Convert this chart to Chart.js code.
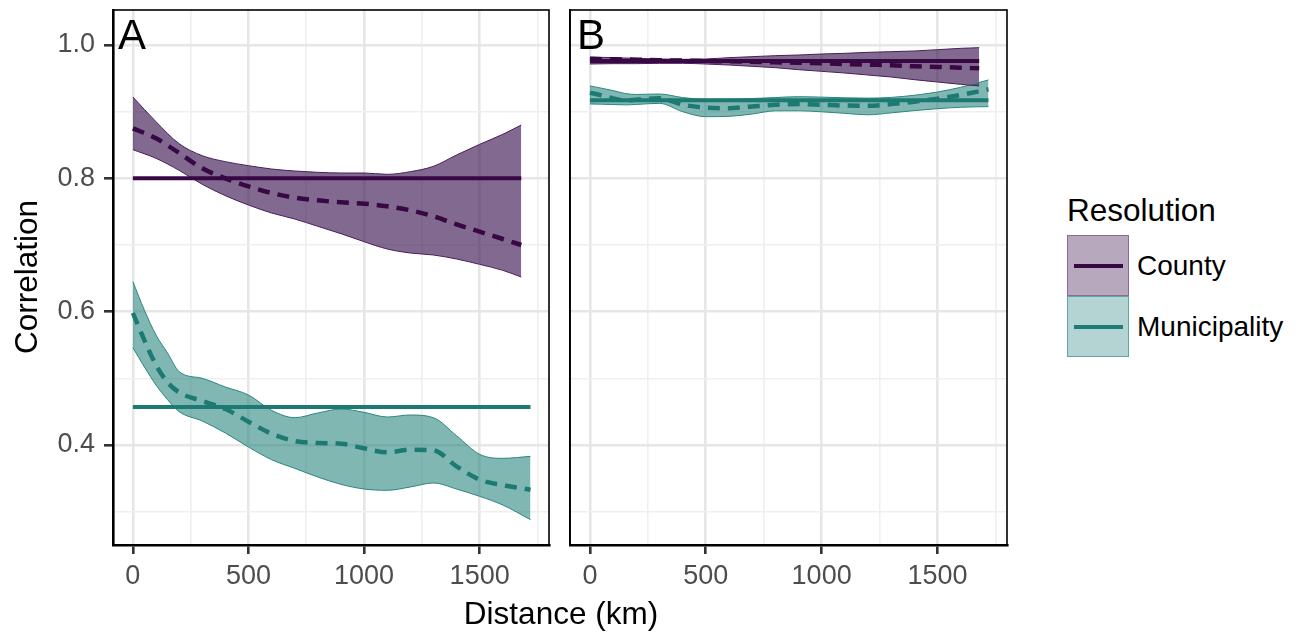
<!DOCTYPE html>
<html><head><meta charset="utf-8">
<script src="https://cdn.jsdelivr.net/npm/chart.js@4.4.1/dist/chart.umd.min.js"></script>
<style>
html,body{margin:0;padding:0;background:#fff;width:1302px;height:632px;overflow:hidden;font-family:"Liberation Sans",Arial,Helvetica,sans-serif;}
.abs{position:absolute;white-space:nowrap;}
#cA{left:0;top:0;}
#cB{left:560px;top:0;}
.tag{font-size:42px;line-height:42px;color:#000;}
.title{font-size:31.5px;line-height:30px;color:#000;}
#ytitle{left:-74px;top:262px;width:200px;text-align:center;transform:rotate(-90deg);transform-origin:50% 50%;}
#xtitle{left:411px;top:598px;width:300px;text-align:center;}
#ltitle{left:1067px;top:195px;}
.key{position:absolute;left:1067px;width:60px;height:59px;border:1px solid;}
.keyline{position:absolute;left:6px;width:49px;height:4px;top:28px;}
.llab{font-size:28px;line-height:26px;color:#000;left:1137px;}
</style></head><body>
<canvas id="cA" class="abs" width="560" height="600"></canvas>
<canvas id="cB" class="abs" width="460" height="600"></canvas>
<div class="abs tag" style="left:118px;top:14px">A</div>
<div class="abs tag" style="left:577px;top:14px">B</div>
<div class="abs title" id="ytitle">Correlation</div>
<div class="abs title" id="xtitle">Distance (km)</div>
<div class="abs title" id="ltitle">Resolution</div>
<div class="key" style="top:235px;background:rgba(60,20,80,0.37);border-color:#8a6b98;"><div class="keyline" style="background:#380844"></div></div>
<div class="key" style="top:296px;background:rgba(31,128,122,0.34);border-color:#5ea8a2;"><div class="keyline" style="background:#1f7b75"></div></div>
<div class="abs llab" style="top:253px">County</div>
<div class="abs llab" style="top:314px">Municipality</div>
<script>
// ---------- data ----------
const resolutions = ["County", "Municipality"];
const panels = ["A", "B"];
const xTickValues = [0, 250, 500, 750, 1000, 1250, 1500, 1750];
const yTickValues = [0.3, 0.4, 0.5, 0.6, 0.7, 0.8, 0.9, 1.0];

const countyDist = [0,100,200,300,400,500,600,700,800,900,1000,1100,1200,1300,1400,1500,1600,1680];
const muniDist = [0,50,100,150,200,300,400,500,600,700,800,900,1000,1100,1200,1300,1400,1500,1600,1720];

// Panel A
const countyMeanA  = [0.875,0.860,0.838,0.815,0.800,0.788,0.778,0.771,0.767,0.764,0.762,0.758,0.752,0.743,0.731,0.720,0.709,0.700];
const countyUpperA = [0.922,0.885,0.852,0.834,0.825,0.819,0.814,0.811,0.809,0.808,0.808,0.806,0.810,0.818,0.835,0.851,0.866,0.880];
const countyLowerA = [0.843,0.830,0.812,0.791,0.774,0.760,0.748,0.739,0.728,0.717,0.705,0.694,0.688,0.685,0.679,0.671,0.662,0.652];
const muniMeanA  = [0.598,0.557,0.520,0.494,0.479,0.466,0.454,0.435,0.417,0.406,0.403,0.402,0.395,0.389,0.393,0.392,0.368,0.348,0.340,0.333];
const muniUpperA = [0.645,0.602,0.565,0.538,0.510,0.500,0.487,0.475,0.452,0.441,0.448,0.454,0.449,0.442,0.445,0.441,0.414,0.386,0.380,0.383];
const muniLowerA = [0.546,0.517,0.490,0.468,0.450,0.436,0.418,0.397,0.378,0.365,0.352,0.341,0.334,0.332,0.337,0.343,0.334,0.323,0.310,0.288];
const overallA = [0.800, 0.457]; // County, Municipality

// Panel B
const countyMeanB  = [0.979,0.9785,0.978,0.977,0.9767,0.976,0.9755,0.9748,0.974,0.9733,0.9725,0.9715,0.9705,0.9696,0.968,0.967,0.966,0.965];
const countyUpperB = [0.982,0.981,0.980,0.979,0.9785,0.979,0.981,0.9825,0.984,0.985,0.9865,0.9875,0.989,0.990,0.991,0.993,0.995,0.996];
const countyLowerB = [0.9715,0.972,0.972,0.9725,0.9725,0.9715,0.970,0.968,0.966,0.963,0.9605,0.958,0.955,0.952,0.948,0.9445,0.941,0.9385];
const muniMeanB  = [0.9286,0.9245,0.9200,0.9170,0.9180,0.9200,0.9105,0.9060,0.9052,0.9078,0.9103,0.9114,0.9104,0.9092,0.9090,0.9113,0.9150,0.9195,0.9250,0.9336];
const muniUpperB = [0.9386,0.9352,0.9316,0.9274,0.9258,0.9265,0.9212,0.9186,0.9187,0.9197,0.9212,0.9225,0.9218,0.9208,0.9203,0.9214,0.9246,0.9295,0.9365,0.9476];
const muniLowerB = [0.9116,0.9112,0.9107,0.9102,0.9108,0.9125,0.9000,0.8925,0.8930,0.8965,0.9012,0.9013,0.8998,0.8975,0.8953,0.8982,0.9016,0.9045,0.9066,0.9076];
const overallB = [0.976, 0.917];

// ---------- styling ----------
const COL = {
  countyLine: '#380844', countyFill: 'rgba(60,20,80,0.64)', countyEdge: '#4a1d5c',
  muniLine: '#1c7a73', muniFill: 'rgba(31,128,122,0.57)', muniEdge: '#2b857f'
};
const FONT = '"Liberation Sans", Arial, Helvetica, sans-serif';
Chart.defaults.font.family = FONT;

function pts(xs, ys) { return xs.map((x, i) => ({x: x, y: ys[i]})); }
function flat(xs, v) { return [{x: xs[0], y: v}, {x: xs[xs.length - 1], y: v}]; }

const isMajorX = v => Math.abs(v % 500) < 1e-6;
const isMajorY = v => Math.round(v * 10) % 2 === 0;

const frame = {
  id: 'frame',
  afterDatasetsDraw(chart) {
    const a = chart.chartArea, c = chart.ctx;
    c.save();
    c.strokeStyle = '#000';
    c.lineWidth = 1.6;
    c.strokeRect(a.left, a.top, a.right - a.left, a.bottom - a.top);
    c.restore();
  }
};

function makePanel(id, d, showY, padding) {
  const datasets = [
    {data: pts(countyDist, d.cMean), borderColor: COL.countyLine, borderWidth: 4.5, borderDash: [12, 8], fill: false},
    {data: pts(muniDist, d.mMean), borderColor: COL.muniLine, borderWidth: 4.5, borderDash: [12, 8], fill: false},
    {data: flat(countyDist, d.overall[0]), borderColor: COL.countyLine, borderWidth: 4, fill: false, tension: 0},
    {data: flat(muniDist, d.overall[1]), borderColor: COL.muniLine, borderWidth: 4, fill: false, tension: 0},
    {data: pts(countyDist, d.cUp), borderColor: COL.countyEdge, borderWidth: 1, fill: '+1', backgroundColor: COL.countyFill},
    {data: pts(countyDist, d.cLo), borderColor: COL.countyEdge, borderWidth: 1, fill: false},
    {data: pts(muniDist, d.mUp), borderColor: COL.muniEdge, borderWidth: 1, fill: '+1', backgroundColor: COL.muniFill},
    {data: pts(muniDist, d.mLo), borderColor: COL.muniEdge, borderWidth: 1, fill: false}
  ];
  datasets.forEach(ds => { ds.pointRadius = 0; ds.cubicInterpolationMode = 'monotone'; });
  return new Chart(document.getElementById(id), {
    type: 'line',
    data: {datasets},
    plugins: [frame],
    options: {
      responsive: false, animation: false, devicePixelRatio: 1,
      layout: {padding},
      plugins: {legend: {display: false}, tooltip: {enabled: false}, filler: {drawTime: 'beforeDatasetsDraw'}},
      scales: {
        x: {
          type: 'linear', min: -86, max: 1800,
          afterBuildTicks: s => { s.ticks = xTickValues.map(v => ({value: v})); },
          afterFit: s => { s.height = 55; s.paddingLeft = 0; s.paddingRight = 0; },
          ticks: {autoSkip: false, maxRotation: 0, padding: 6, color: '#4d4d4d', font: {size: 27, family: FONT},
                  callback: v => isMajorX(v) ? String(v) : ''},
          grid: {
            color: c => isMajorX(c.tick.value) ? '#e6e6e6' : '#efefef',
            lineWidth: c => isMajorX(c.tick.value) ? 2.6 : 1.6,
            tickColor: c => isMajorX(c.tick.value) ? '#333333' : 'rgba(0,0,0,0)',
            tickWidth: c => isMajorX(c.tick.value) ? 2.6 : 0,
            tickLength: 9
          },
          border: {display: true, color: '#000', width: 2.6}
        },
        y: {
          type: 'linear', min: 0.25, max: 1.0525,
          afterBuildTicks: s => { s.ticks = yTickValues.map(v => ({value: v})); },
          afterFit: s => { s.width = showY ? 113 : 0; s.paddingTop = 0; s.paddingBottom = 0; },
          ticks: {display: showY, autoSkip: false, padding: 9, color: '#4d4d4d', font: {size: 27, family: FONT},
                  callback: v => isMajorY(v) ? v.toFixed(1) : ''},
          grid: {
            color: c => isMajorY(c.tick.value) ? '#e6e6e6' : '#efefef',
            lineWidth: c => isMajorY(c.tick.value) ? 2.6 : 1.6,
            drawTicks: showY,
            tickColor: c => isMajorY(c.tick.value) ? '#333333' : 'rgba(0,0,0,0)',
            tickWidth: c => isMajorY(c.tick.value) ? 2.6 : 0,
            tickLength: 9
          },
          border: {display: true, color: '#000', width: showY ? 2.6 : 1.8}
        }
      }
    }
  });
}

makePanel('cA', {cMean: countyMeanA, cUp: countyUpperA, cLo: countyLowerA,
                 mMean: muniMeanA, mUp: muniUpperA, mLo: muniLowerA, overall: overallA},
          true, {left: 0, top: 10, right: 11, bottom: 0});
makePanel('cB', {cMean: countyMeanB, cUp: countyUpperB, cLo: countyLowerB,
                 mMean: muniMeanB, mUp: muniUpperB, mLo: muniLowerB, overall: overallB},
          false, {left: 10, top: 10, right: 13, bottom: 0});
</script>
</body></html>
